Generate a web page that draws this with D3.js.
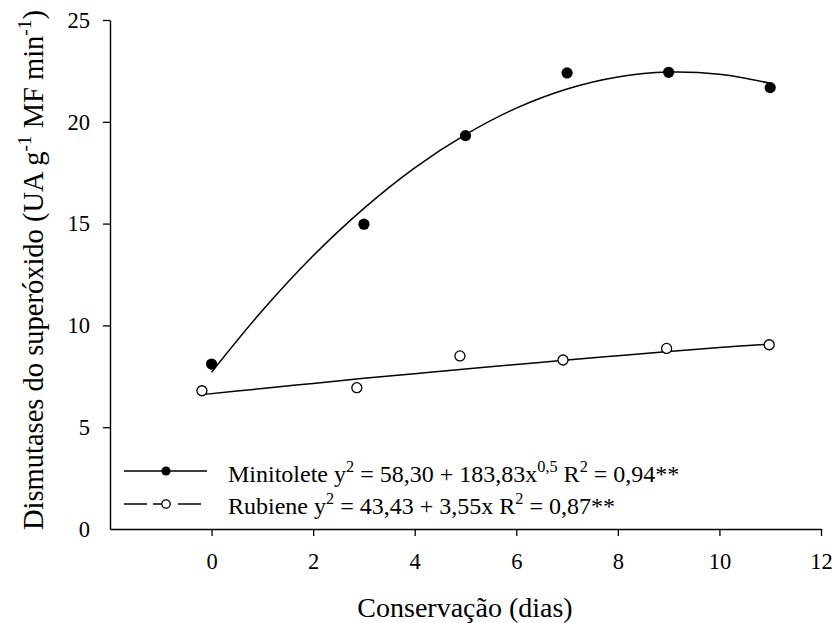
<!DOCTYPE html>
<html>
<head>
<meta charset="utf-8">
<script src="https://cdn.jsdelivr.net/npm/d3@7"></script>
<style>
  body { margin: 0; background: #fff; }
  svg text { font-family: "Liberation Serif", "DejaVu Serif", serif; }
</style>
</head>
<body>
<div id="chart"></div>
<script>
// observed means
var miniX = [0, 3, 5, 7, 9, 11];
var miniY = [8.1, 14.97, 19.32, 22.4, 22.43, 21.68];
var rubX = [-0.19, 2.86, 4.89, 6.92, 8.96, 10.98];
var rubY = [6.79, 6.94, 8.5, 8.3, 8.87, 9.05];

// fitted curves
var miniFitX = [0, 1, 2, 3, 4, 5, 6, 7, 8, 9, 10, 11];
var miniFitY = [7.7, 10.73, 13.42, 15.75, 17.74, 19.37, 20.67, 21.61, 22.2, 22.44, 22.33, 21.89];
var rubFitX = [-0.19, 1, 2, 3, 4, 5, 6, 7, 8, 9, 10, 11];
var rubFitY = [6.6, 6.9, 7.15, 7.4, 7.63, 7.86, 8.08, 8.3, 8.51, 8.72, 8.92, 9.08];

var xTicks = [0, 2, 4, 6, 8, 10, 12];
var yTicks = [0, 5, 10, 15, 20, 25];

var width = 834, height = 623;
var serif = '"Liberation Serif", "DejaVu Serif", serif';

var svg = d3.select('#chart').append('svg')
  .attr('width', width)
  .attr('height', height)
  .attr('font-family', serif);

var x = d3.scaleLinear().domain([-2, 12]).range([110, 821]);
var y = d3.scaleLinear().domain([0, 25]).range([529, 20]);

var xAxis = svg.append('g')
  .attr('transform', 'translate(0,' + y(0) + ')')
  .call(d3.axisBottom(x).tickValues(xTicks).tickSize(7).tickSizeOuter(0).tickPadding(17));

var yAxis = svg.append('g')
  .attr('transform', 'translate(' + x(-2) + ',0)')
  .call(d3.axisLeft(y).tickValues(yTicks).tickSize(7).tickSizeOuter(0).tickPadding(13));

[xAxis, yAxis].forEach(function(g) {
  g.attr('font-family', serif).attr('font-size', 22.5);
  g.select('.domain').attr('stroke', '#000').attr('stroke-width', 1.4);
  g.selectAll('.tick line').attr('stroke', '#000').attr('stroke-width', 1.3);
  g.selectAll('.tick text')
    .attr('fill', '#000')
    .style('font-family', serif)
    .style('font-size', '22.5px');
});
yAxis.selectAll('.tick').filter(function(d) { return d === 0; }).select('line').remove();

// fit lines
var line = d3.line()
  .x(function(d) { return x(d[0]); })
  .y(function(d) { return y(d[1]); })
  .curve(d3.curveCatmullRom);

svg.append('path')
  .datum(d3.zip(miniFitX, miniFitY))
  .attr('d', line)
  .attr('fill', 'none')
  .attr('stroke', '#000')
  .attr('stroke-width', 1.5);

svg.append('path')
  .datum(d3.zip(rubFitX, rubFitY))
  .attr('d', line)
  .attr('fill', 'none')
  .attr('stroke', '#000')
  .attr('stroke-width', 1.5);

// points
svg.selectAll('.mini')
  .data(d3.zip(miniX, miniY))
  .enter().append('circle')
  .attr('cx', function(d) { return x(d[0]); })
  .attr('cy', function(d) { return y(d[1]); })
  .attr('r', 5.6)
  .attr('fill', '#000');

svg.selectAll('.rub')
  .data(d3.zip(rubX, rubY))
  .enter().append('circle')
  .attr('cx', function(d) { return x(d[0]); })
  .attr('cy', function(d) { return y(d[1]); })
  .attr('r', 5)
  .attr('fill', '#fff')
  .attr('stroke', '#000')
  .attr('stroke-width', 1.3);

// legend
var leg = svg.append('g');
leg.append('line')
  .attr('x1', 124).attr('x2', 207).attr('y1', 471).attr('y2', 471)
  .attr('stroke', '#000').attr('stroke-width', 1.5);
leg.append('circle')
  .attr('cx', 166).attr('cy', 471).attr('r', 4.6).attr('fill', '#000');

[[124, 147], [153, 162], [178, 201]].forEach(function(s) {
  leg.append('line')
    .attr('x1', s[0]).attr('x2', s[1]).attr('y1', 504).attr('y2', 504)
    .attr('stroke', '#000').attr('stroke-width', 1.5);
});
leg.append('circle')
  .attr('cx', 166).attr('cy', 504).attr('r', 4.2)
  .attr('fill', '#fff').attr('stroke', '#000').attr('stroke-width', 1.3);

function addText(sel, parts) {
  parts.forEach(function(p) {
    var t = sel.append('tspan').text(p[0]);
    if (p[1] === 'sup') {
      t.style('font-size', '0.68em').attr('dy', '-0.6em');
    } else if (p[1] === 'back') {
      t.attr('dy', '0.41em');
    }
  });
}

var t1 = leg.append('text').attr('x', 228).attr('y', 482)
  .style('font-family', serif).style('font-size', '24px');
addText(t1, [['Minitolete y'], ['2', 'sup'], [' = 58,30 + 183,83x', 'back'], ['0,5', 'sup'], [' R', 'back'], ['2', 'sup'], [' = 0,94**', 'back']]);

var t2 = leg.append('text').attr('x', 228).attr('y', 514)
  .style('font-family', serif).style('font-size', '24px');
addText(t2, [['Rubiene y'], ['2', 'sup'], [' = 43,43 + 3,55x R', 'back'], ['2', 'sup'], [' = 0,87**', 'back']]);

// axis titles
svg.append('text')
  .attr('x', 465).attr('y', 617)
  .attr('text-anchor', 'middle')
  .style('font-family', serif)
  .style('font-size', '28px')
  .text('Conservação (dias)');

var yt = svg.append('text')
  .attr('transform', 'translate(43,270) rotate(-90)')
  .attr('text-anchor', 'middle')
  .style('font-family', serif)
  .style('font-size', '28.5px');
addText(yt, [['Dismutases do superóxido (UA g'], ['-1', 'sup'], [' MF min', 'back'], ['-1', 'sup'], [')', 'back']]);
</script>
</body>
</html>
